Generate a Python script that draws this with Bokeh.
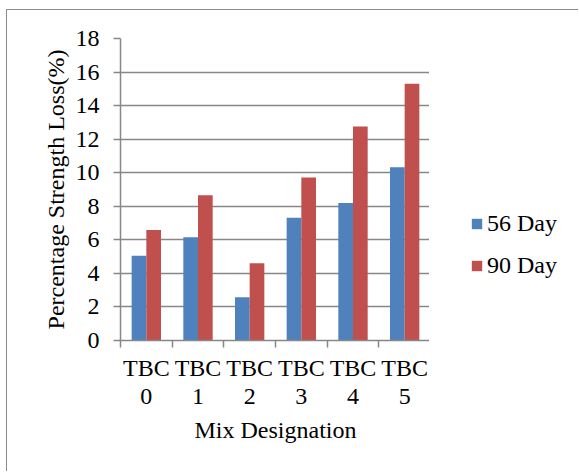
from bokeh.plotting import figure
from bokeh.layouts import row
from bokeh.models import ColumnDataSource, FixedTicker, Legend, LegendItem, Range1d
from bokeh.transform import dodge
from bokeh.embed import file_html
from bokeh.resources import INLINE
import numpy as np

categories = ["TBC 0", "TBC 1", "TBC 2", "TBC 3", "TBC 4", "TBC 5"]
tick_labels = ["TBC\n0", "TBC\n1", "TBC\n2", "TBC\n3", "TBC\n4", "TBC\n5"]
day56 = [5.05, 6.16, 2.58, 7.32, 8.19, 10.32]
day90 = [6.58, 8.65, 4.61, 9.71, 12.75, 15.31]
series_names = ["56 Day", "90 Day"]
y_ticks = [0, 2, 4, 6, 8, 10, 12, 14, 16, 18]
x_title = "Mix Designation"
y_title = "Percentage Strength Loss(%)"

FONT = "Liberation Serif"
GRAY = "#878787"
BORDER = "#8c8c8c"
BLUE = "#4F81BD"
RED = "#C0504D"

x_centers = np.arange(len(categories)) + 0.5
source = ColumnDataSource(dict(x=x_centers, d56=day56, d90=day90, cat=categories))

p = figure(width=423, height=462, x_range=Range1d(0, len(categories)), y_range=Range1d(0, 18),
           output_backend="svg", toolbar_location=None,
           min_border_left=113, min_border_top=28, min_border_right=0, min_border_bottom=132)
p.margin = (9, 0, 0, 6)
p.styles = {"border-top": "1px solid " + BORDER, "border-left": "1px solid " + BORDER}
p.outline_line_color = None

bw = 0.284
p.vbar(x=dodge("x", -bw / 2), top="d56", width=bw, source=source,
       fill_color=BLUE, line_color=None)
p.vbar(x=dodge("x", bw / 2), top="d90", width=bw, source=source,
       fill_color=RED, line_color=None)

# grid
p.xgrid.grid_line_color = None
p.ygrid.grid_line_color = GRAY
p.ygrid.grid_line_width = 1.5
p.ygrid.ticker = FixedTicker(ticks=y_ticks)

# y axis
p.yaxis.ticker = FixedTicker(ticks=y_ticks)
p.yaxis.axis_line_color = GRAY
p.yaxis.axis_line_width = 1.5
p.yaxis.major_tick_line_color = GRAY
p.yaxis.major_tick_line_width = 1.5
p.yaxis.major_tick_out = 7
p.yaxis.major_tick_in = 0
p.yaxis.minor_tick_line_color = None
p.yaxis.major_label_standoff = 14
p.yaxis.major_label_text_font = FONT
p.yaxis.major_label_text_font_size = "24px"
p.yaxis.major_label_text_color = "black"
p.yaxis.axis_label = y_title
p.yaxis.axis_label_text_font = FONT
p.yaxis.axis_label_text_font_size = "24px"
p.yaxis.axis_label_text_font_style = "normal"
p.yaxis.axis_label_text_color = "black"
p.yaxis.axis_label_standoff = 4

# x axis
p.xaxis.ticker = FixedTicker(ticks=list(x_centers), minor_ticks=list(range(len(categories) + 1)))
p.xaxis.major_label_overrides = {float(c): lbl for c, lbl in zip(x_centers, tick_labels)}
p.xaxis.axis_line_color = GRAY
p.xaxis.axis_line_width = 1.5
p.xaxis.major_tick_line_color = None
p.xaxis.major_tick_out = 0
p.xaxis.major_tick_in = 0
p.xaxis.minor_tick_line_color = GRAY
p.xaxis.minor_tick_line_width = 1.5
p.xaxis.minor_tick_out = 7
p.xaxis.minor_tick_in = 0
p.xaxis.major_label_standoff = 7
p.xaxis.major_label_text_line_height = 1.08
p.xaxis.major_label_text_font = FONT
p.xaxis.major_label_text_font_size = "24px"
p.xaxis.major_label_text_color = "black"
p.xaxis.axis_label = x_title
p.xaxis.axis_label_text_font = FONT
p.xaxis.axis_label_text_font_size = "24px"
p.xaxis.axis_label_text_font_style = "normal"
p.xaxis.axis_label_text_color = "black"
p.xaxis.axis_label_standoff = 5

# legend panel: a second figure whose (hidden) renderers only supply the legend swatches
q = figure(width=149, height=462, output_backend="svg", toolbar_location=None,
           x_axis_type=None, y_axis_type=None,
           min_border_left=0, min_border_right=0, min_border_top=0, min_border_bottom=0)
q.margin = (9, 0, 0, 0)
q.styles = {"border-top": "1px solid " + BORDER}
q.outline_line_color = None
q.grid.grid_line_color = None
l1 = q.vbar(x="x", top="d56", width=bw, source=source, fill_color=BLUE, line_color=None, visible=False)
l2 = q.vbar(x="x", top="d90", width=bw, source=source, fill_color=RED, line_color=None, visible=False)

legend = Legend(items=[LegendItem(label=series_names[0], renderers=[l1]),
                       LegendItem(label=series_names[1], renderers=[l2])],
                location=(41, 60), orientation="vertical",
                glyph_width=13, glyph_height=13, label_standoff=4, label_height=30,
                spacing=12, padding=0, margin=0,
                inactive_fill_alpha=0,
                label_text_font=FONT, label_text_font_size="24px", label_text_color="black",
                border_line_color=None, background_fill_alpha=0)
q.add_layout(legend)

layout = row(p, q, spacing=0)
open("out.html", "w").write(file_html(layout, INLINE))
